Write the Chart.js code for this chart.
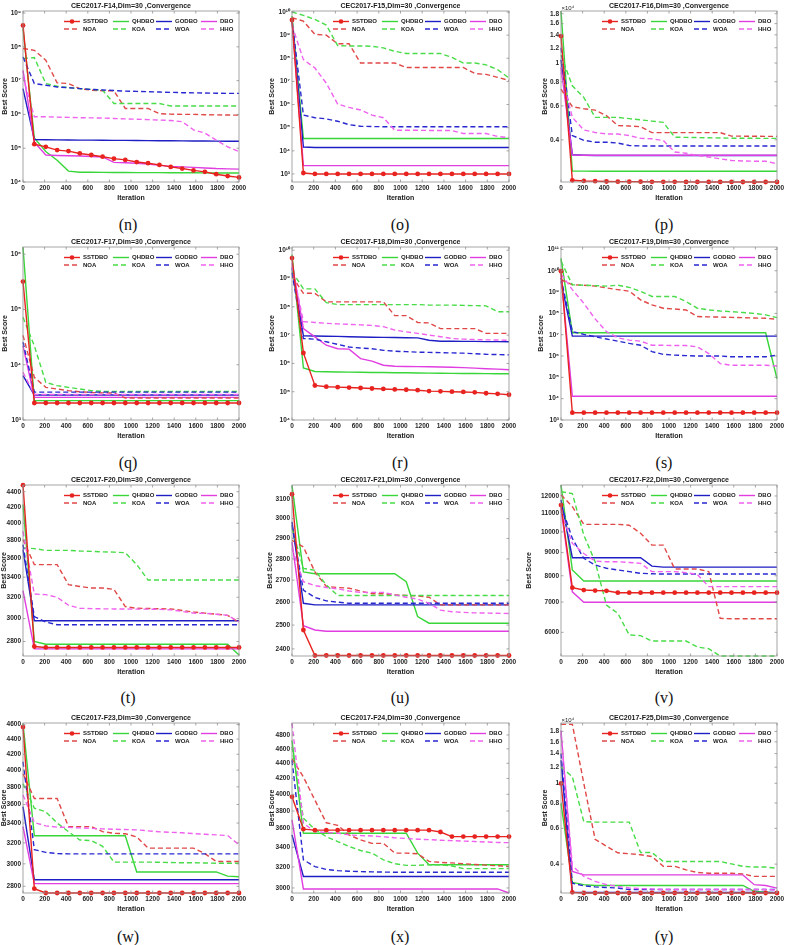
<!DOCTYPE html>
<html><head><meta charset="utf-8">
<script src="https://cdn.jsdelivr.net/npm/chart.js@4.4.0/dist/chart.umd.min.js"></script>
<style>
html,body{margin:0;padding:0;background:#fff;width:788px;height:945px;overflow:hidden;position:relative}
canvas{position:absolute}
.cap{position:absolute;width:60px;text-align:center;font-family:'Liberation Serif','Times New Roman',serif;font-size:16px;line-height:18px;color:#111}
</style></head><body>
<script>
// ---------- data ----------
const ITER = [0,105,211,316,421,526,632,737,842,947,1053,1158,1263,1368,1474,1579,1684,1789,1895,2000];
const SERIES = ['SSTDBO','QHDBO','GODBO','DBO','NOA','KOA','WOA','HHO'];

const F14_SSTDBO=[4.3e8,1.32e5,1.1e5,8.8e4,8.2e4,7.0e4,6.3e4,5.6e4,4.9e4,4.5e4,3.9e4,3.6e4,3.2e4,2.8e4,2.5e4,2.2e4,2.0e4,1.7e4,1.5e4,1.37e4];
const F14_QHDBO=[3.5e8,2.0e5,8.0e4,4.4e4,2.1e4,1.95e4,1.95e4,1.93e4,1.92e4,1.92e4,1.9e4,1.9e4,1.9e4,1.88e4,1.88e4,1.87e4,1.86e4,1.85e4,1.85e4,1.85e4];
const F14_GODBO=[5.8e6,1.8e5,1.78e5,1.76e5,1.75e5,1.74e5,1.73e5,1.72e5,1.71e5,1.7e5,1.69e5,1.68e5,1.67e5,1.66e5,1.65e5,1.64e5,1.63e5,1.62e5,1.61e5,1.6e5];
const F14_DBO=[2.0e7,1.5e5,6.3e4,6.1e4,6.0e4,5.9e4,5.7e4,5.5e4,3.8e4,3.7e4,3.6e4,3.4e4,3.1e4,2.9e4,2.8e4,2.7e4,2.6e4,2.5e4,2.45e4,2.4e4];
const F14_NOA=[8.9e7,7.9e7,4.0e7,8.6e6,8.2e6,5.8e6,5.2e6,5.0e6,5.0e6,1.5e6,1.5e6,1.5e6,1.05e6,1.02e6,1.0e6,1.0e6,9.8e5,9.7e5,9.6e5,9.5e5];
const F14_KOA=[4.5e7,4.8e7,8.2e6,6.8e6,6.2e6,5.8e6,5.5e6,5.2e6,2.1e6,2.1e6,2.1e6,2.1e6,2.1e6,1.77e6,1.77e6,1.77e6,1.77e6,1.77e6,1.77e6,1.77e6];
const F14_WOA=[5.0e7,8.2e6,7.3e6,6.5e6,6.2e6,5.8e6,5.5e6,5.3e6,5.1e6,4.9e6,4.8e6,4.7e6,4.6e6,4.5e6,4.4e6,4.35e6,4.3e6,4.25e6,4.2e6,4.2e6];
const F14_HHO=[1.3e7,8.5e5,8.5e5,8.3e5,8.2e5,8.0e5,7.9e5,7.8e5,7.6e5,7.4e5,7.2e5,7.0e5,6.8e5,6.6e5,6.1e5,3.5e5,2.8e5,1.74e5,1.1e5,7.9e4];

const F15_SSTDBO=[4.5e9,1100,1000,1000,1000,1000,1000,1000,1000,1000,1000,1000,1000,1000,1000,1000,1000,1000,1000,1000];
const F15_QHDBO=[6.7e9,3.4e4,3.4e4,3.4e4,3.4e4,3.4e4,3.4e4,3.4e4,3.4e4,3.4e4,3.4e4,3.4e4,3.4e4,3.4e4,3.4e4,3.4e4,3.4e4,3.4e4,3.4e4,3.4e4];
const F15_GODBO=[4.5e9,1.46e4,1.4e4,1.4e4,1.4e4,1.4e4,1.4e4,1.4e4,1.4e4,1.4e4,1.4e4,1.4e4,1.4e4,1.4e4,1.4e4,1.4e4,1.4e4,1.4e4,1.4e4,1.4e4];
const F15_DBO=[4.2e9,2300,2300,2300,2300,2300,2300,2300,2300,2300,2300,2300,2300,2300,2300,2300,2300,2300,2300,2300];
const F15_NOA=[5.7e9,4.0e9,1.07e9,1.0e9,4.2e8,4.2e8,6.2e7,6.2e7,6.2e7,6.2e7,4.0e7,4.0e7,4.0e7,4.0e7,4.0e7,4.0e7,2.2e7,2.0e7,1.5e7,1.1e7];
const F15_KOA=[1.0e10,7.1e9,4.8e9,2.7e9,3.5e8,3.4e8,3.4e8,3.3e8,2.8e8,2.0e8,1.6e8,1.6e8,1.6e8,1.6e8,1.1e8,6.2e7,6.2e7,5.2e7,3.2e7,1.4e7];
const F15_WOA=[4.5e9,3.5e5,2.7e5,2.4e5,1.9e5,1.35e5,1.15e5,1.12e5,1.1e5,1.1e5,1.1e5,1.1e5,1.1e5,1.1e5,1.1e5,1.1e5,1.1e5,1.1e5,1.1e5,1.1e5];
const F15_HHO=[2.6e9,8.7e7,3.8e7,8.4e6,1.05e6,7.5e5,5.8e5,3.5e5,2.7e5,7.8e4,7.7e4,7.7e4,7.6e4,7.6e4,7.5e4,5.6e4,5.6e4,5.6e4,4.2e4,3.7e4];

const F16_SSTDBO=[13800,2470,2450,2445,2435,2430,2430,2428,2426,2425,2424,2423,2422,2422,2421,2421,2420,2420,2420,2420];
const F16_QHDBO=[18600,2760,2755,2752,2750,2750,2750,2750,2750,2750,2750,2750,2750,2750,2750,2750,2750,2750,2750,2750];
const F16_GODBO=[10400,3350,3330,3320,3320,3320,3320,3320,3320,3320,3320,3320,3320,3320,3320,3320,3320,3320,3320,3320];
const F16_DBO=[9500,3340,3330,3330,3330,3330,3330,3330,3330,3330,3330,3330,3330,3330,3330,3330,3330,3330,3330,3330];
const F16_NOA=[7330,5940,5800,5700,5340,4740,4720,4680,4360,4360,4360,4360,4360,4360,4360,4180,4180,4175,4170,4170];
const F16_KOA=[11000,7620,6640,5230,5230,5230,5150,5080,5000,4930,4130,4120,4110,4100,4090,4080,4080,4075,4070,4070];
const F16_WOA=[12000,4210,3980,3890,3890,3850,3740,3720,3720,3720,3720,3720,3720,3720,3720,3720,3720,3720,3720,3720];
const F16_HHO=[8940,5230,4500,4370,4290,4290,4210,4070,4050,3970,3460,3410,3320,3260,3190,3130,3110,3100,3100,3010];

const F17_SSTDBO=[3.2e5,2030,2030,2030,2030,2030,2030,2030,2030,2030,2030,2030,2030,2030,2030,2030,2030,2030,2030,2030];
const F17_QHDBO=[1.34e6,2240,2240,2240,2240,2240,2240,2240,2240,2240,2240,2240,2240,2240,2240,2240,2240,2240,2240,2240];
const F17_GODBO=[6350,2840,2840,2840,2840,2840,2840,2840,2840,2840,2840,2840,2840,2840,2840,2840,2840,2840,2840,2840];
const F17_DBO=[2.2e4,2570,2570,2570,2570,2570,2570,2570,2570,2570,2570,2570,2570,2570,2570,2570,2570,2570,2570,2570];
const F17_NOA=[3.4e4,5900,3900,3640,3400,3250,3150,3100,3080,2500,2500,2500,2500,2500,2500,2500,2500,2500,2500,2500];
const F17_KOA=[7.2e4,2.2e4,4800,4180,3900,3640,3400,3300,3280,3280,3280,3280,3280,3280,3280,3280,3280,3280,3280,3280];
const F17_WOA=[2.55e4,3200,3200,3200,3200,3200,3200,3200,3200,3200,3200,3200,3200,3200,3200,3200,3200,3200,3200,3200];
const F17_HHO=[7300,2900,2900,2900,2900,2900,2900,2900,2900,2900,2900,2900,2900,2900,2900,2900,2900,2900,2900,2900];

const F18_SSTDBO=[5.3e9,2.35e6,1.66e5,1.5e5,1.45e5,1.4e5,1.35e5,1.3e5,1.25e5,1.2e5,1.17e5,1.13e5,1.05e5,1.03e5,1.0e5,9.8e4,9.5e4,8.8e4,8.4e4,7.8e4];
const F18_QHDBO=[7.0e9,6.9e5,5.2e5,5.1e5,5.0e5,4.9e5,4.85e5,4.8e5,4.75e5,4.7e5,4.65e5,4.6e5,4.55e5,4.5e5,4.45e5,4.4e5,4.4e5,4.35e5,4.3e5,4.3e5];
const F18_GODBO=[2.4e9,9.5e6,9.3e6,9.1e6,9.0e6,8.8e6,8.6e6,8.4e6,8.3e6,8.2e6,8.1e6,8.0e6,6.6e6,6.1e6,6.1e6,6.0e6,6.0e6,5.9e6,5.9e6,5.8e6];
const F18_DBO=[3.5e9,1.7e7,8.7e6,4.4e6,3.3e6,3.2e6,1.48e6,1.2e6,8.6e5,7.9e5,7.8e5,7.7e5,7.6e5,7.5e5,7.3e5,7.1e5,6.8e5,6.5e5,6.3e5,6.0e5];
const F18_NOA=[1.2e9,3.0e8,3.0e8,1.5e8,1.5e8,1.5e8,1.5e8,1.5e8,1.5e8,4.9e7,4.9e7,2.8e7,2.7e7,1.7e7,1.7e7,1.7e7,1.7e7,1.15e7,1.15e7,1.15e7];
const F18_KOA=[1.8e9,4.3e8,4.3e8,1.4e8,1.2e8,1.2e8,1.2e8,1.2e8,1.2e8,1.2e8,1.2e8,1.2e8,1.15e8,1.15e8,1.15e8,1.12e8,1.1e8,1.08e8,6.7e7,6.7e7];
const F18_WOA=[1.6e9,7.6e6,7.2e6,5.8e6,4.7e6,3.8e6,3.5e6,3.3e6,2.9e6,2.7e6,2.6e6,2.5e6,2.45e6,2.4e6,2.35e6,2.3e6,2.2e6,2.1e6,2.05e6,2.0e6];
const F18_HHO=[2.7e9,3.0e7,2.8e7,2.6e7,2.5e7,2.4e7,2.3e7,2.2e7,2.0e7,1.5e7,1.3e7,1.15e7,1.0e7,8.8e6,7.6e6,7.2e6,7.0e6,6.8e6,6.7e6,6.6e6];

const F19_SSTDBO=[9.5e9,2200,2200,2200,2200,2200,2200,2200,2200,2200,2200,2200,2200,2200,2200,2200,2200,2200,2200,2200];
const F19_QHDBO=[3.8e10,1.24e7,1.24e7,1.24e7,1.24e7,1.24e7,1.24e7,1.24e7,1.24e7,1.24e7,1.24e7,1.24e7,1.24e7,1.24e7,1.24e7,1.24e7,1.24e7,1.24e7,1.24e7,8.6e4];
const F19_GODBO=[3.2e9,8.6e6,8.6e6,8.6e6,8.6e6,8.6e6,8.6e6,8.6e6,8.6e6,8.6e6,8.6e6,8.6e6,8.6e6,8.6e6,8.6e6,8.6e6,8.6e6,8.6e6,8.6e6,8.6e6];
const F19_DBO=[6.6e9,1.3e4,1.3e4,1.3e4,1.3e4,1.3e4,1.3e4,1.3e4,1.3e4,1.3e4,1.3e4,1.3e4,1.3e4,1.3e4,1.3e4,1.3e4,1.3e4,1.3e4,1.3e4,1.3e4];
const F19_NOA=[3.8e9,2.2e9,2.1e9,1.9e9,1.56e9,1.3e9,1.1e9,4.3e8,2.5e8,1.75e8,1.6e8,1.45e8,7.1e7,6.9e7,6.7e7,6.5e7,6.3e7,6.1e7,5.9e7,5.3e7];
const F19_KOA=[2.8e10,2.2e9,2.1e9,2.0e9,1.9e9,2.1e9,1.66e9,1.07e9,6.2e8,6.2e8,6.2e8,3.6e8,1.75e8,1.45e8,1.3e8,1.2e8,1.1e8,1.0e8,8.5e7,6.3e7];
const F19_WOA=[4.6e9,1.4e7,1.04e7,8.0e6,6.3e6,5.0e6,3.9e6,3.2e6,1.6e6,1.2e6,1.1e6,1.05e6,1.0e6,1.0e6,1.0e6,9.2e5,9.2e5,9.2e5,9.2e5,1.1e6];
const F19_HHO=[7.1e9,1.3e9,3.0e8,5.5e7,1.4e7,7.2e6,5.6e6,5.0e6,3.2e6,3.2e6,3.1e6,3.1e6,2.7e6,1.3e6,4.4e5,3.7e5,3.7e5,3.7e5,3.7e5,3.4e5];

const F20_SSTDBO=[4488,2758,2750,2750,2750,2750,2750,2750,2750,2750,2750,2750,2750,2750,2750,2750,2750,2750,2750,2750];
const F20_QHDBO=[4233,2800,2777,2777,2777,2777,2777,2777,2777,2777,2777,2777,2777,2777,2777,2777,2777,2777,2777,2689];
const F20_GODBO=[3693,2981,2981,2981,2981,2981,2981,2981,2981,2981,2981,2981,2981,2981,2981,2981,2981,2981,2981,2981];
const F20_DBO=[3265,2738,2738,2738,2738,2738,2738,2738,2738,2738,2738,2738,2738,2738,2738,2738,2738,2738,2738,2738];
const F20_NOA=[3808,3531,3531,3531,3324,3306,3290,3290,3277,3111,3095,3093,3091,3089,3075,3060,3050,3040,3030,2966];
const F20_KOA=[3713,3706,3686,3686,3686,3679,3675,3670,3667,3660,3531,3371,3371,3371,3371,3371,3371,3371,3371,3371];
const F20_WOA=[3750,3018,2969,2945,2945,2945,2945,2945,2945,2945,2945,2945,2945,2945,2945,2945,2945,2945,2945,2945];
const F20_HHO=[3903,3231,3225,3200,3124,3095,3092,3090,3089,3088,3087,3087,3085,3080,3066,3050,3048,3040,3030,2970];

const F21_SSTDBO=[3128,2479,2373,2373,2373,2373,2373,2373,2373,2373,2373,2373,2373,2373,2373,2373,2373,2373,2373,2373];
const F21_QHDBO=[3175,2738,2730,2730,2730,2730,2730,2730,2730,2730,2693,2537,2508,2508,2508,2508,2508,2508,2508,2508];
const F21_GODBO=[2983,2595,2588,2588,2588,2588,2588,2588,2588,2588,2588,2588,2588,2588,2588,2588,2588,2588,2588,2588];
const F21_DBO=[2882,2497,2479,2474,2474,2474,2474,2474,2474,2474,2474,2474,2474,2474,2474,2474,2474,2474,2474,2474];
const F21_NOA=[2890,2858,2738,2671,2666,2663,2650,2638,2638,2633,2630,2628,2622,2588,2588,2588,2588,2588,2588,2588];
const F21_KOA=[2949,2755,2746,2678,2630,2630,2630,2630,2630,2630,2630,2630,2630,2630,2630,2630,2630,2630,2630,2630];
const F21_WOA=[2966,2654,2621,2606,2600,2595,2595,2595,2595,2595,2595,2595,2595,2595,2595,2595,2595,2595,2595,2595];
const F21_HHO=[2851,2693,2675,2666,2660,2650,2644,2644,2644,2633,2622,2614,2595,2565,2558,2555,2553,2552,2551,2550];

const F22_SSTDBO=[11460,7530,7440,7420,7410,7340,7340,7340,7340,7340,7340,7340,7340,7340,7340,7340,7340,7340,7340,7340];
const F22_QHDBO=[12690,8240,7790,7790,7790,7790,7790,7790,7790,7790,7790,7790,7790,7790,7790,7790,7790,7790,7790,7790];
const F22_GODBO=[11760,8770,8770,8770,8770,8770,8770,8770,8400,8360,8360,8360,8360,8360,8360,8360,8360,8360,8360,8360];
const F22_DBO=[11270,7370,6990,6990,6990,6990,6990,6990,6990,6990,6990,6990,6990,6990,6990,6990,6990,6990,6990,6990];
const F22_NOA=[12070,11370,10390,10390,10390,10390,10340,9930,9350,9350,8280,8280,8280,8170,6440,6430,6430,6430,6430,6430];
const F22_KOA=[12260,12150,9840,8590,6890,6610,5920,5900,5740,5740,5740,5740,5570,5520,5320,5320,5320,5320,5320,5320];
const F22_WOA=[11460,9670,8740,8450,8310,8240,8170,8100,8080,8070,8070,8070,8070,8070,8070,8070,8070,8070,8070,8070];
const F22_HHO=[11080,9430,8960,8620,8590,8590,8560,8520,8170,8170,8170,8130,8050,7570,7570,7570,7570,7570,7570,7570];

const F23_SSTDBO=[4566,2780,2743,2743,2743,2743,2743,2743,2743,2743,2743,2743,2743,2743,2743,2743,2743,2743,2743,2743];
const F23_QHDBO=[4614,3270,3270,3270,3270,3270,3270,3270,3270,3270,2926,2926,2926,2926,2926,2926,2926,2926,2889,2883];
const F23_GODBO=[3576,2857,2857,2857,2857,2857,2857,2857,2857,2857,2857,2857,2857,2857,2857,2857,2857,2857,2857,2857];
const F23_DBO=[3363,2823,2823,2823,2823,2823,2823,2823,2823,2823,2823,2823,2823,2823,2823,2823,2823,2823,2823,2823];
const F23_NOA=[3955,3666,3666,3666,3363,3363,3363,3312,3295,3290,3259,3148,3148,3148,3148,3148,3096,3022,3022,3022];
const F23_KOA=[3838,3559,3520,3400,3312,3228,3222,3166,3016,3016,3016,3016,3014,3012,3010,3010,3008,3006,3005,3005];
const F23_WOA=[4104,3134,3107,3096,3093,3093,3093,3093,3093,3093,3093,3093,3093,3093,3093,3093,3093,3093,3093,3093];
const F23_HHO=[3707,3405,3371,3358,3355,3350,3345,3340,3336,3333,3330,3320,3310,3305,3300,3292,3285,3279,3272,3181];

const F24_SSTDBO=[3970,3594,3583,3583,3583,3583,3583,3583,3583,3583,3583,3583,3583,3563,3513,3513,3513,3513,3513,3513];
const F24_QHDBO=[4722,3550,3550,3550,3550,3550,3550,3550,3550,3550,3550,3339,3222,3222,3222,3222,3222,3222,3222,3222];
const F24_GODBO=[3531,3108,3108,3108,3108,3108,3108,3108,3108,3108,3108,3108,3108,3108,3108,3108,3108,3108,3108,3108];
const F24_DBO=[3697,2991,2991,2991,2991,2991,2991,2991,2991,2991,2991,2991,2991,2991,2991,2991,2991,2991,2991,2954];
const F24_NOA=[4464,4218,3930,3665,3637,3531,3477,3441,3441,3339,3339,3332,3255,3245,3240,3232,3225,3218,3212,3206];
const F24_KOA=[4626,3717,3591,3513,3460,3408,3366,3339,3271,3232,3216,3216,3222,3222,3210,3184,3184,3184,3184,3184];
const F24_WOA=[4441,3271,3204,3176,3164,3158,3155,3152,3150,3149,3149,3149,3149,3149,3149,3149,3149,3149,3149,3149];
const F24_HHO=[4975,3660,3567,3558,3550,3531,3524,3520,3510,3500,3493,3485,3480,3474,3470,3465,3460,3455,3450,3448];

const F25_SSTDBO=[9980,2905,2884,2884,2884,2884,2884,2884,2884,2884,2884,2884,2884,2884,2884,2884,2884,2884,2884,2884];
const F25_QHDBO=[7960,3250,3170,3140,3140,3140,3140,3140,3140,3140,3140,3140,3140,3140,3140,3140,3140,2940,2910,2884];
const F25_GODBO=[12980,2910,2900,2900,2900,2900,2900,2900,2900,2900,2900,2900,2900,2900,2900,2900,2900,2900,2900,2900];
const F25_DBO=[18200,3680,3540,3540,3540,3540,3540,3540,3540,3540,3540,3540,3540,3540,3540,3540,3540,3170,3140,3050];
const F25_NOA=[19500,19500,10000,5300,4900,4550,4500,4450,4360,3900,3900,3750,3640,3610,3610,3610,3580,3480,3480,3480];
const F25_KOA=[12040,10770,6470,6440,6440,6440,6440,4560,4560,4120,4120,4120,4120,4120,4120,4010,3900,3870,3870,3820];
const F25_WOA=[14000,3220,3130,3090,3070,3050,3000,3000,3000,3000,3000,3000,3000,3000,3000,3000,3000,3000,3000,3000];
const F25_HHO=[17550,3930,3480,3290,3170,3110,3050,3030,3020,3000,3000,3000,3000,3000,3000,3000,3000,3000,3000,2980];

// tick values / labels
const XTICK_STEP = 200;
const YT_F14=[1e4,1e5,1e6,1e7,1e8,1e9];
const YT_F15=[1e3,1e4,1e5,1e6,1e7,1e8,1e9,1e10];
const YT_F16=[4000,6000,8000,10000,12000,14000,16000,18000];
const YL_F16=['0.4','0.6','0.8','1','1.2','1.4','1.6','1.8'];
const YT_F17=[1e3,1e4,1e5,1e6];
const YT_F18=[1e4,1e5,1e6,1e7,1e8,1e9,1e10];
const YT_F19=[1e3,1e4,1e5,1e6,1e7,1e8,1e9,1e10,1e11];
const YT_F20=[2800,3000,3200,3400,3600,3800,4000,4200,4400];
const YT_F21=[2400,2500,2600,2700,2800,2900,3000,3100];
const YT_F22=[6000,7000,8000,9000,10000,11000,12000];
const YT_F23=[2800,3000,3200,3400,3600,3800,4000,4200,4400,4600];
const YT_F24=[3000,3200,3400,3600,3800,4000,4200,4400,4600,4800];
const YT_F25=[4000,6000,8000,10000,12000,14000,16000,18000];
const YL_F25=['0.4','0.6','0.8','1','1.2','1.4','1.6','1.8'];

// ---------- styles & layout ----------
const FONT = '"Liberation Sans", Arial, sans-serif';
const STYLE = [
  {c:'#e8231f', dash:[]},
  {c:'#38d638', dash:[]},
  {c:'#1e1ec4', dash:[]},
  {c:'#e03ee0', dash:[]},
  {c:'#e04848', dash:[5,3]},
  {c:'#48dc48', dash:[5,3]},
  {c:'#2828d0', dash:[5,3]},
  {c:'#ef62ef', dash:[5,3]}
];
const ORDER = [0,7,6,5,4,3,2,1];
const COLS = [
  {left:0, width:262, plotL:23, plotR:239, capX:128},
  {left:262, width:262, plotL:30, plotR:247, capX:400},
  {left:524, width:264, plotL:37, plotR:253, capX:664}
];
const ROWS = [
  {plotT:11, plotB:182, capY:225},
  {plotT:247, plotB:420, capY:463},
  {plotT:485, plotB:656, capY:698},
  {plotT:723, plotB:893, capY:937}
];
const LEG_X = [41, 90, 133, 178];
const LEG_Y = [10.5, 18];

const SUP = {'0':'\u2070','1':'\u00b9','2':'\u00b2','3':'\u00b3','4':'\u2074','5':'\u2075','6':'\u2076','7':'\u2077','8':'\u2078','9':'\u2079'};
const decLabel = v => '10' + String(Math.round(Math.log10(v))).split('').map(d => SUP[d]).join('');

const PANELS = [
  {fn:'F14', cap:'(n)', s:[F14_SSTDBO,F14_QHDBO,F14_GODBO,F14_DBO,F14_NOA,F14_KOA,F14_WOA,F14_HHO], min:1e4, max:1.15e9, yt:YT_F14, yl:'dec', ytx:5},
  {fn:'F15', cap:'(o)', s:[F15_SSTDBO,F15_QHDBO,F15_GODBO,F15_DBO,F15_NOA,F15_KOA,F15_WOA,F15_HHO], min:450, max:1.1e10, yt:YT_F15, yl:'dec', ytx:10},
  {fn:'F16', cap:'(p)', s:[F16_SSTDBO,F16_QHDBO,F16_GODBO,F16_DBO,F16_NOA,F16_KOA,F16_WOA,F16_HHO], min:2420, max:18600, yt:YT_F16, yl:YL_F16, ytx:21, exp:'\u00d710\u2074'},
  {fn:'F17', cap:'(q)', s:[F17_SSTDBO,F17_QHDBO,F17_GODBO,F17_DBO,F17_NOA,F17_KOA,F17_WOA,F17_HHO], min:1000, max:1.35e6, yt:YT_F17, yl:'dec', ytx:5},
  {fn:'F18', cap:'(r)', s:[F18_SSTDBO,F18_QHDBO,F18_GODBO,F18_DBO,F18_NOA,F18_KOA,F18_WOA,F18_HHO], min:1e4, max:1.3e10, yt:YT_F18, yl:'dec', ytx:10},
  {fn:'F19', cap:'(s)', s:[F19_SSTDBO,F19_QHDBO,F19_GODBO,F19_DBO,F19_NOA,F19_KOA,F19_WOA,F19_HHO], min:1e3, max:1.3e11, yt:YT_F19, yl:'dec', ytx:17},
  {fn:'F20', cap:'(t)', s:[F20_SSTDBO,F20_QHDBO,F20_GODBO,F20_DBO,F20_NOA,F20_KOA,F20_WOA,F20_HHO], min:2680, max:4490, yt:YT_F20, yl:'num', ytx:4.2},
  {fn:'F21', cap:'(u)', s:[F21_SSTDBO,F21_QHDBO,F21_GODBO,F21_DBO,F21_NOA,F21_KOA,F21_WOA,F21_HHO], min:2371, max:3178, yt:YT_F21, yl:'num', ytx:8},
  {fn:'F22', cap:'(v)', s:[F22_SSTDBO,F22_QHDBO,F22_GODBO,F22_DBO,F22_NOA,F22_KOA,F22_WOA,F22_HHO], min:5320, max:12690, yt:YT_F22, yl:'num', ytx:5},
  {fn:'F23', cap:'(w)', s:[F23_SSTDBO,F23_QHDBO,F23_GODBO,F23_DBO,F23_NOA,F23_KOA,F23_WOA,F23_HHO], min:2743, max:4623, yt:YT_F23, yl:'num', ytx:4.2},
  {fn:'F24', cap:'(x)', s:[F24_SSTDBO,F24_QHDBO,F24_GODBO,F24_DBO,F24_NOA,F24_KOA,F24_WOA,F24_HHO], min:2954, max:4980, yt:YT_F24, yl:'num', ytx:10},
  {fn:'F25', cap:'(y)', s:[F25_SSTDBO,F25_QHDBO,F25_GODBO,F25_DBO,F25_NOA,F25_KOA,F25_WOA,F25_HHO], min:2884, max:19800, yt:YT_F25, yl:YL_F25, ytx:21, exp:'\u00d710\u2074'}
];

// frame, inner ticks, legend, exponent label
const framePlugin = {
  id: 'frame',
  afterDraw(chart, args, opts) {
    const ctx = chart.ctx, a = chart.chartArea;
    const xs = chart.scales.x, ys = chart.scales.y;
    ctx.save();
    ctx.setLineDash([]);
    ctx.strokeStyle = '#8f8f8f'; ctx.lineWidth = 0.8;
    ctx.strokeRect(a.left, a.top, a.right - a.left, a.bottom - a.top);
    ctx.beginPath();
    xs.ticks.forEach(t => {
      const px = xs.getPixelForValue(t.value);
      ctx.moveTo(px, a.bottom); ctx.lineTo(px, a.bottom - 2.5);
      ctx.moveTo(px, a.top); ctx.lineTo(px, a.top + 2.5);
    });
    ys.ticks.forEach(t => {
      const py = ys.getPixelForValue(t.value);
      ctx.moveTo(a.left, py); ctx.lineTo(a.left + 2.5, py);
      ctx.moveTo(a.right, py); ctx.lineTo(a.right - 2.5, py);
    });
    ctx.stroke();
    // legend
    ctx.font = 'bold 6px ' + FONT;
    ctx.textBaseline = 'middle'; ctx.textAlign = 'left';
    chart.data.datasets.forEach((ds, i) => {
      const x = a.left + LEG_X[i % 4], y = a.top + LEG_Y[Math.floor(i / 4)];
      ctx.strokeStyle = ds.borderColor; ctx.lineWidth = 1.4;
      ctx.setLineDash(ds.borderDash || []);
      ctx.beginPath(); ctx.moveTo(x, y); ctx.lineTo(x + 16, y); ctx.stroke();
      ctx.setLineDash([]);
      if (ds.pointRadius > 0) {
        ctx.fillStyle = ds.borderColor;
        ctx.beginPath(); ctx.arc(x + 8, y, 2.3, 0, Math.PI * 2); ctx.fill();
      }
      ctx.fillStyle = '#1a1a1a';
      ctx.fillText(ds.label, x + 19, y + 0.3);
    });
    if (opts && opts.exp) {
      ctx.font = '6px ' + FONT; ctx.fillStyle = '#222';
      ctx.textBaseline = 'middle';
      ctx.fillText(opts.exp, a.left + 0.5, a.top - 3);
    }
    ctx.restore();
  }
};

PANELS.forEach((p, k) => {
  const col = COLS[k % 3], row = ROWS[Math.floor(k / 3)];
  const top = row.plotT - 11;
  const h = row.plotB - top + 21;
  const cv = document.createElement('canvas');
  cv.width = col.width; cv.height = h;
  cv.style.left = col.left + 'px'; cv.style.top = top + 'px';
  cv.style.width = col.width + 'px'; cv.style.height = h + 'px';
  document.body.appendChild(cv);

  const cap = document.createElement('div');
  cap.className = 'cap'; cap.textContent = p.cap;
  cap.style.left = (col.capX - 30) + 'px';
  cap.style.top = (row.capY - 9) + 'px';
  document.body.appendChild(cap);

  const datasets = p.s.map((arr, i) => ({
    label: SERIES[i],
    data: ITER.map((x, j) => ({x: x, y: arr[j]})),
    borderColor: STYLE[i].c, backgroundColor: STYLE[i].c,
    borderWidth: 1.4, borderDash: STYLE[i].dash,
    pointRadius: i === 0 ? 2.4 : 0, pointBorderWidth: 0,
    pointBackgroundColor: STYLE[i].c, pointHoverRadius: 0,
    tension: 0, fill: false, order: ORDER[i], clip: i === 0 ? 4 : 1
  }));

  const tickLabel = (v, idx) => {
    if (p.yl === 'dec') return decLabel(v);
    if (p.yl === 'num') return String(v);
    return p.yl[idx];
  };

  new Chart(cv, {
    type: 'line',
    data: {datasets},
    options: {
      responsive: false, animation: false, events: [],
      layout: {padding: {left: 0, right: col.width - col.plotR, top: 0, bottom: 0}},
      plugins: {
        legend: {display: false}, tooltip: {enabled: false},
        title: {display: true, text: 'CEC2017-' + p.fn + ',Dim=30 ,Convergence', fullSize: false,
          font: {family: FONT, size: 7, weight: 'bold', lineHeight: 1.2}, color: '#1a1a1a',
          padding: {top: 2.3, bottom: 0.3}},
        frame: {exp: p.exp || ''}
      },
      scales: {
        x: {
          type: 'linear', min: 0, max: 2000,
          afterFit(s) { s.height = 21; },
          grid: {display: false, drawTicks: false}, border: {display: false},
          ticks: {stepSize: XTICK_STEP, autoSkip: false, maxRotation: 0, padding: 2.1,
            font: {family: FONT, size: 6.5, weight: 'bold'}, color: '#262626',
            callback: v => String(v)},
          title: {display: true, text: 'Iteration', font: {family: FONT, size: 7, weight: 'bold', lineHeight: 1.2},
            color: '#1a1a1a', padding: {top: 0, bottom: 0.8}}
        },
        y: {
          type: 'logarithmic', min: p.min, max: p.max,
          afterFit(s) { s.width = col.plotL; },
          afterBuildTicks(s) { s.ticks = p.yt.map(v => ({value: v})); },
          grid: {display: false, drawTicks: false}, border: {display: false},
          ticks: {autoSkip: false, padding: 2, font: {family: FONT, size: 6.5, weight: 'bold'}, color: '#262626',
            callback: tickLabel},
          title: {display: true, text: 'Best Score', font: {family: FONT, size: 7, weight: 'bold', lineHeight: 1.2},
            color: '#1a1a1a', padding: {top: Math.max(0, p.ytx - 4.2), bottom: 0}}
        }
      }
    },
    plugins: [framePlugin]
  });
});
</script>
</body></html>
